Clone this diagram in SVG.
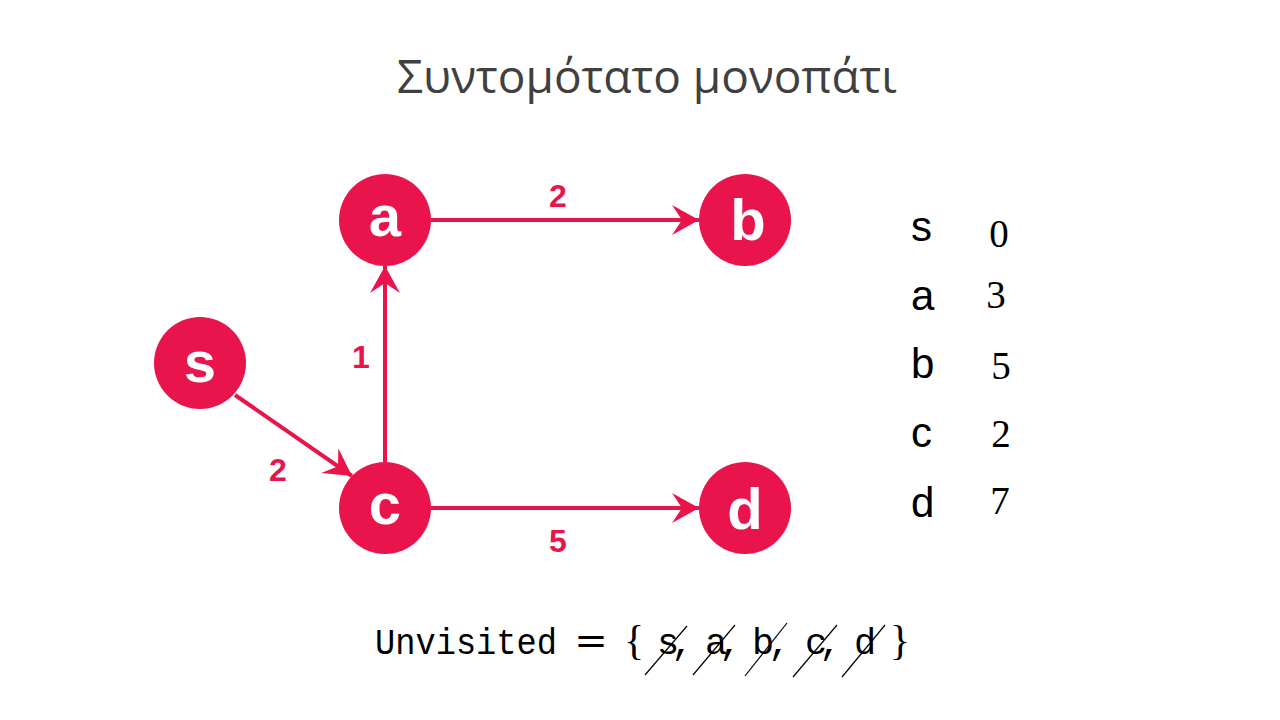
<svg xmlns="http://www.w3.org/2000/svg" width="1280" height="720" viewBox="0 0 1280 720">
<style>
.node{fill:#EA144C}
.nl{font-family:"Liberation Sans",Arial,sans-serif;font-weight:bold;font-size:58px;fill:#fff;text-anchor:middle}
.edge{stroke:#EA144C;stroke-width:4;fill:none}
.el{font-family:"Liberation Sans",Arial,sans-serif;font-weight:bold;font-size:32px;fill:#EA144C;text-anchor:middle}
.title{font-family:"Open Sans","Noto Sans",sans-serif;font-size:46px;fill:#404040;text-anchor:middle}
.tl{font-family:"Liberation Sans",Arial,sans-serif;font-size:42px;fill:#000}
.tn{font-family:"Liberation Serif","Times New Roman",serif;font-size:39px;fill:#000;text-anchor:middle}
.mono{font-family:"Liberation Mono","Courier New",monospace;font-size:37px;fill:#000}
.br{font-family:"Liberation Serif","Times New Roman",serif;font-size:42px;fill:#000;text-anchor:middle}
.eq{font-family:"DejaVu Serif",serif;font-size:40px;fill:#000;text-anchor:middle}
.strike{stroke:#000;stroke-width:1.2}
</style>
<defs>
<marker id="arr" markerUnits="userSpaceOnUse" viewBox="-30 -16 32 32" refX="0" refY="0" markerWidth="32" markerHeight="32" orient="auto">
<path d="M0,0 L-27,-15 L-17,0 L-27,15 Z" fill="#EA144C"/>
</marker>
</defs>
<text class="title" x="647" y="93">Συντομότατο μονοπάτι</text>
<g id="edges">
<line class="edge" x1="431" y1="220" x2="699" y2="220" marker-end="url(#arr)"/>
<line class="edge" x1="431" y1="508" x2="699" y2="508" marker-end="url(#arr)"/>
<line class="edge" x1="385" y1="462" x2="385" y2="266" marker-end="url(#arr)"/>
<line class="edge" x1="235" y1="395" x2="352" y2="476" marker-end="url(#arr)"/>
<text class="el" x="558" y="207">2</text>
<text class="el" x="558" y="552">5</text>
<text class="el" x="361" y="368">1</text>
<text class="el" x="278" y="481">2</text>
</g>
<g id="node-s"><circle class="node" cx="200" cy="363" r="46"/><text class="nl" x="200" y="382">s</text></g>
<g id="node-a"><circle class="node" cx="385" cy="220" r="46"/><text class="nl" x="385" y="236">a</text></g>
<g id="node-b"><circle class="node" cx="745" cy="220" r="46"/><text class="nl" x="748" y="240">b</text></g>
<g id="node-c"><circle class="node" cx="385" cy="508" r="46"/><text class="nl" x="385" y="524">c</text></g>
<g id="node-d"><circle class="node" cx="745" cy="508" r="46"/><text class="nl" x="745" y="529">d</text></g>
<g id="table">
<text class="tl" x="911" y="241">s</text>
<text class="tl" x="911" y="310">a</text>
<text class="tl" x="911" y="378">b</text>
<text class="tl" x="911" y="447">c</text>
<text class="tl" x="911" y="517">d</text>
<text class="tn" x="999" y="247">0</text>
<text class="tn" x="996" y="308">3</text>
<text class="tn" x="1001" y="379">5</text>
<text class="tn" x="1001" y="447">2</text>
<text class="tn" x="1000" y="514">7</text>
</g>
<g id="unvisited">
<text class="mono" x="375" y="654" textLength="182" lengthAdjust="spacingAndGlyphs">Unvisited</text>
<text class="eq" x="591" y="654">=</text>
<text class="br" x="634" y="654">{</text>
<text class="mono" x="657" y="654" letter-spacing="-8">s,</text>
<text class="mono" x="705" y="654" letter-spacing="-8">a,</text>
<text class="mono" x="752" y="654" letter-spacing="-6">b,</text>
<text class="mono" x="805" y="654" letter-spacing="-8">c,</text>
<text class="mono" x="854" y="654">d</text>
<text class="br" x="900" y="654">}</text>
<line class="strike" x1="645" y1="675" x2="687" y2="626"/>
<line class="strike" x1="693" y1="675" x2="735" y2="625"/>
<line class="strike" x1="745" y1="676" x2="787" y2="623"/>
<line class="strike" x1="793" y1="677" x2="837" y2="625"/>
<line class="strike" x1="842" y1="677" x2="885" y2="625"/>
</g>
</svg>
